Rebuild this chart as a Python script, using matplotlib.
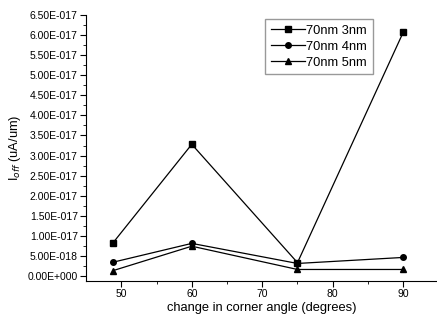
import matplotlib
matplotlib.use('Agg')
import matplotlib.pyplot as plt
import numpy as np
from matplotlib.ticker import FixedLocator, FuncFormatter

plt.rcParams['font.family'] = ['Liberation Sans', 'DejaVu Sans']

# corner angle (degrees) vs off current
angles = [48.8, 60, 75, 90]
ioff_3nm = [8.2e-18, 3.28e-17, 3.3e-18, 6.07e-17]
ioff_4nm = [3.4e-18, 8.1e-18, 3.1e-18, 4.6e-18]
ioff_5nm = [1.3e-18, 7.4e-18, 1.6e-18, 1.6e-18]
labels = ['70nm 3nm', '70nm 4nm', '70nm 5nm']

x_ticks = [50, 60, 70, 80, 90]
y_ticks = [i * 5e-18 for i in range(14)]


def sci_fmt(v, pos):
    if abs(v) < 1e-30:
        return '0.00E+000'
    s = '%.2E' % v
    mant, ex = s.split('E')
    sign = ex[0]
    return '%sE%s%03d' % (mant, sign, abs(int(ex)))


fig = plt.figure(figsize=(4.37, 3.22), dpi=100)
ax = fig.add_axes([0.197, 0.127, 0.803, 0.826])

ax.plot(angles, ioff_3nm, color='black', lw=0.9, marker='s', ms=4, label=labels[0])
ax.plot(angles, ioff_4nm, color='black', lw=0.9, marker='o', ms=4, label=labels[1])
ax.plot(angles, ioff_5nm, color='black', lw=0.9, marker='^', ms=4.5, label=labels[2])

ax.set_xlim(45, 94.8)
ax.set_ylim(-1.3e-18, 6.5e-17)
ax.xaxis.set_major_locator(FixedLocator(x_ticks))
ax.xaxis.set_minor_locator(FixedLocator([55, 65, 75, 85]))
ax.yaxis.set_major_locator(FixedLocator(y_ticks))
ax.yaxis.set_minor_locator(FixedLocator([v + 2.5e-18 for v in y_ticks[:-1]]))
ax.yaxis.set_major_formatter(FuncFormatter(sci_fmt))

ax.spines['top'].set_visible(False)
ax.spines['right'].set_visible(False)
ax.tick_params(which='both', direction='out', labelsize=7.5, pad=2)
ax.tick_params(which='major', length=4)
ax.tick_params(which='minor', length=2)

ax.set_xlabel('change in corner angle (degrees)', fontsize=9.3, labelpad=2)
ax.set_ylabel('I$_{off}$ (uA/um)', fontsize=9.3, labelpad=3)

ax.legend(loc='upper right', bbox_to_anchor=(0.835, 1.01), fontsize=9.3,
          fancybox=False, edgecolor='gray', handlelength=2.6,
          handletextpad=0.1, borderpad=0.45, labelspacing=0.3)

fig.savefig('out.png', dpi=100)
